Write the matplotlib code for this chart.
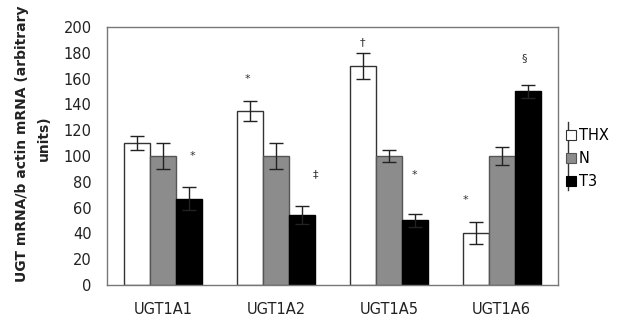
import numpy as np
import matplotlib
matplotlib.use('Agg')
import matplotlib.pyplot as plt
from matplotlib.patches import Patch
from matplotlib.lines import Line2D

plt.rcParams['font.family'] = ['DejaVu Sans']

# %% Data
genes = ['UGT1A1', 'UGT1A2', 'UGT1A5', 'UGT1A6']
groups = ['THX', 'N', 'T3']
thx = [110, 135, 170, 40]
thx_err = [5.5, 8, 10, 8.5]
norm = [100, 100, 100, 100]
norm_err = [10, 10, 5, 7]
t3 = [67, 54, 50, 150]
t3_err = [9, 7, 5, 5]

# significance marks: (gene index, group index, y value, symbol)
marks = [(0, 2, 100, '*'), (1, 0, 160, '*'), (1, 2, 86, '‡'),
         (2, 0, 188, '†'), (2, 2, 85, '*'), (3, 0, 66, '*'), (3, 2, 176, '§')]
mark_dx = [0.03, -0.02, 0.12, 0.0, 0.0, -0.09, -0.03]

# %% Plot
fig = plt.figure(figsize=(6.25, 3.24), dpi=100)
ax = fig.add_axes([0.1712, 0.1204, 0.7216, 0.7963])

w = 0.23
x = np.arange(len(genes))
colors = ['white', '#8c8c8c', 'black']
edges = ['#333333', '#555555', 'black']
series = [(thx, thx_err), (norm, norm_err), (t3, t3_err)]

for j, (vals, errs) in enumerate(series):
    ax.bar(x + (j - 1) * w, vals, w, yerr=errs, color=colors[j], edgecolor=edges[j],
           linewidth=1, capsize=5, error_kw=dict(ecolor='#222222', elinewidth=1, capthick=1))

for (gi, sj, yv, sym), dx in zip(marks, mark_dx):
    ax.text(gi + (sj - 1) * w + dx, yv, sym, ha='center', va='center', fontsize=8, color='#333333')

ax.set_xlim(-0.5, 3.5)
ax.set_ylim(0, 200)
ax.set_yticks(range(0, 201, 20))
ax.set_xticks(x)
ax.set_xticklabels(genes)
ax.tick_params(axis='both', length=0, labelsize=10.5, colors='#222222')
ax.tick_params(axis='y', pad=11)
ax.tick_params(axis='x', pad=12)
for s in ax.spines.values():
    s.set_color('#777777')
    s.set_linewidth(1)

fig.text(0.036, 0.555, 'UGT mRNA/b actin mRNA (arbitrary', rotation=90, ha='center', va='center',
         fontsize=10, fontweight='bold', color='#222222')
fig.text(0.071, 0.575, 'units)', rotation=90, ha='center', va='center',
         fontsize=10, fontweight='bold', color='#222222')

# legend with a vertical rule on its left
handles = [Patch(facecolor=c, edgecolor=e, linewidth=0.8) for c, e in zip(colors, edges)]
fig.legend(handles, groups, loc='upper left', bbox_to_anchor=(0.905, 0.605), frameon=False,
           fontsize=10.5, handlelength=0.7, handleheight=0.7, handletextpad=0.2,
           labelspacing=0.55, borderpad=0, borderaxespad=0)
fig.add_artist(Line2D([0.909, 0.909], [0.413, 0.623], color='#333333', linewidth=1))

fig.savefig('out.png', dpi=100)
